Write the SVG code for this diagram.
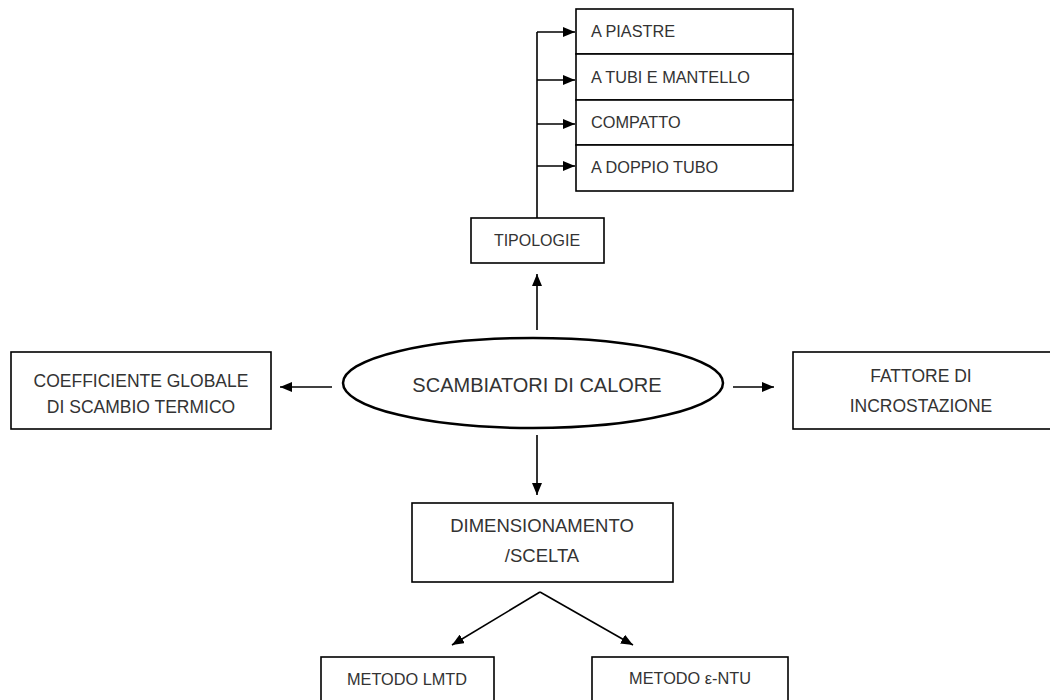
<svg xmlns="http://www.w3.org/2000/svg" width="1050" height="700" viewBox="0 0 1050 700">
<style>
.box{fill:#fff;stroke:#000;stroke-width:1.6}
.t{font-family:"Liberation Sans",Arial,sans-serif;fill:#333;text-anchor:middle}
.ts{font-size:16.3px;text-anchor:start}
.tm{font-size:17.5px}
.tb{font-size:20px}
.c{stroke:#000;stroke-width:1.6;fill:none}
.a{marker-end:url(#ah)}
</style>
<defs>
<marker id="ah" markerUnits="userSpaceOnUse" markerWidth="12" markerHeight="10" refX="12" refY="5" orient="auto">
<path d="M0,0 L12,5 L0,10 Z" fill="#000"/>
</marker>
</defs>
<rect width="1050" height="700" fill="#fff"/>
<g id="connectors">
<line class="c" x1="537" y1="32" x2="537" y2="218"/>
<line class="c a" x1="537" y1="32" x2="575" y2="32"/>
<line class="c a" x1="537" y1="80" x2="575" y2="80"/>
<line class="c a" x1="537" y1="124" x2="575" y2="124"/>
<line class="c a" x1="537" y1="166" x2="575" y2="166"/>
<line class="c a" x1="537" y1="330" x2="537" y2="274"/>
<line class="c a" x1="332" y1="387" x2="280" y2="387"/>
<line class="c a" x1="733" y1="387" x2="774" y2="387"/>
<line class="c a" x1="537" y1="435" x2="537" y2="495"/>
<line class="c a" x1="540" y1="592" x2="452" y2="645"/>
<line class="c a" x1="540" y1="592" x2="633" y2="645"/>
</g>
<g id="node-piastre">
<rect class="box" x="576" y="9" width="217" height="45"/>
<text class="t ts" x="591" y="37">A PIASTRE</text>
</g>
<g id="node-tubi-mantello">
<rect class="box" x="576" y="54" width="217" height="46"/>
<text class="t ts" x="591" y="83">A TUBI E MANTELLO</text>
</g>
<g id="node-compatto">
<rect class="box" x="576" y="100" width="217" height="45"/>
<text class="t ts" x="591" y="128">COMPATTO</text>
</g>
<g id="node-doppio-tubo">
<rect class="box" x="576" y="145" width="217" height="46"/>
<text class="t ts" x="591" y="173">A DOPPIO TUBO</text>
</g>
<g id="node-tipologie">
<rect class="box" x="471" y="218" width="133" height="45"/>
<text class="t" style="font-size:16px" x="537" y="246">TIPOLOGIE</text>
</g>
<g id="node-scambiatori">
<ellipse cx="533" cy="383" rx="190" ry="45" fill="#fff" stroke="#000" stroke-width="2.5"/>
<text class="t tb" x="537" y="392">SCAMBIATORI DI CALORE</text>
</g>
<g id="node-coefficiente">
<rect class="box" x="11" y="352" width="260" height="77"/>
<text class="t tm" x="141" y="387">COEFFICIENTE GLOBALE</text>
<text class="t tm" x="141" y="413">DI SCAMBIO TERMICO</text>
</g>
<g id="node-fattore">
<rect class="box" x="793" y="352" width="265" height="77"/>
<text class="t tm" x="921" y="382">FATTORE DI</text>
<text class="t tm" x="921" y="412">INCROSTAZIONE</text>
</g>
<g id="node-dimensionamento">
<rect class="box" x="412" y="503" width="261" height="79"/>
<text class="t tm" style="font-size:18.5px" x="542" y="532">DIMENSIONAMENTO</text>
<text class="t tm" style="font-size:18.5px" x="542" y="562">/SCELTA</text>
</g>
<g id="node-lmtd">
<rect class="box" x="321" y="657" width="173" height="60"/>
<text class="t" style="font-size:16.3px" x="407" y="685">METODO LMTD</text>
</g>
<g id="node-entu">
<rect class="box" x="592" y="657" width="196" height="60"/>
<text class="t" style="font-size:16.3px" x="690" y="684">METODO ε-NTU</text>
</g>
</svg>
